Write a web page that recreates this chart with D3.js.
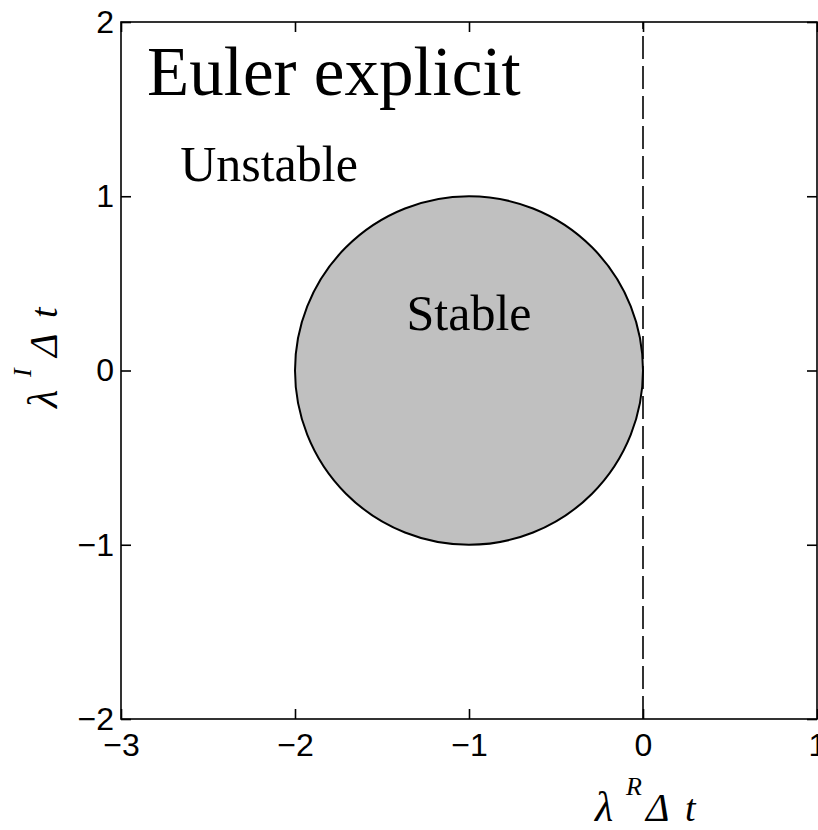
<!DOCTYPE html>
<html>
<head>
<meta charset="utf-8">
<script src="https://cdn.jsdelivr.net/npm/d3@7"></script>
<style>
  body { margin: 0; background: #fff; }
  svg { display: block; }
</style>
</head>
<body>
<div id="chart"></div>
<script>
// Axis ranges and ticks
const xDomain = [-3, 1];
const yDomain = [-2, 2];
const xTicks = [-3, -2, -1, 0, 1];
const yTicks = [-2, -1, 0, 1, 2];

// Stability region of explicit Euler: |1 + z| <= 1
const stableCenter = [-1, 0];
const stableRadius = [1];

// Imaginary axis (dashed)
const boundaryX = [0];

// Labels in the plot
const titleText = ['Euler explicit'];
const regionLabels = ['Unstable', 'Stable'];

const W = 818, H = 830;
const margin = { top: 22, right: 1, bottom: 111, left: 121 };
const width = W - margin.left - margin.right;
const height = H - margin.top - margin.bottom;

const svg = d3.select('#chart')
    .append('svg')
    .attr('width', W)
    .attr('height', H);

const g = svg.append('g')
    .attr('transform', `translate(${margin.left},${margin.top})`);

const x = d3.scaleLinear().domain(xDomain).range([0, width]);
const y = d3.scaleLinear().domain(yDomain).range([height, 0]);

// Stable disc
g.append('ellipse')
    .attr('cx', x(stableCenter[0]))
    .attr('cy', y(stableCenter[1]))
    .attr('rx', x(stableCenter[0] + stableRadius[0]) - x(stableCenter[0]))
    .attr('ry', y(stableCenter[1]) - y(stableCenter[1] + stableRadius[0]))
    .style('fill', '#c0c0c0')
    .style('stroke', '#000')
    .style('stroke-width', 2);

// Dashed vertical line at Re = 0
g.selectAll('.vline')
    .data(boundaryX)
    .enter()
    .append('line')
    .attr('class', 'vline')
    .attr('x1', d => x(d))
    .attr('x2', d => x(d))
    .attr('y1', y(yDomain[0]))
    .attr('y2', y(yDomain[1]))
    .style('stroke', '#000')
    .style('stroke-width', 1.6)
    .style('stroke-dasharray', '23,7');

// Axes: ticks pointing inward on all four sides
const tickFont = '"Liberation Sans", Arial, Helvetica, sans-serif';
const fmt = d3.format('d');

const styleAxis = sel => {
    sel.select('.domain').remove();
    sel.selectAll('line').style('stroke', '#000').style('stroke-width', 1.6);
    sel.selectAll('text')
        .style('font-family', tickFont)
        .style('font-size', '32px')
        .style('fill', '#000');
};

g.append('g')
    .attr('transform', `translate(0,${height})`)
    .call(d3.axisBottom(x).tickValues(xTicks).tickFormat(fmt).tickSizeInner(-10).tickSizeOuter(0).tickPadding(14))
    .call(styleAxis);

g.append('g')
    .call(d3.axisTop(x).tickValues(xTicks).tickFormat('').tickSizeInner(-10).tickSizeOuter(0))
    .call(styleAxis);

g.append('g')
    .call(d3.axisLeft(y).tickValues(yTicks).tickFormat(fmt).tickSizeInner(-10).tickSizeOuter(0).tickPadding(7))
    .call(styleAxis);

g.append('g')
    .attr('transform', `translate(${width},0)`)
    .call(d3.axisRight(y).tickValues(yTicks).tickFormat('').tickSizeInner(-10).tickSizeOuter(0))
    .call(styleAxis);

// Box
g.append('rect')
    .attr('width', width)
    .attr('height', height)
    .style('fill', 'none')
    .style('stroke', '#000')
    .style('stroke-width', 1.6);

// Text inside the plot
const serif = '"Liberation Serif", "Times New Roman", Times, serif';

g.append('text')
    .attr('x', x(-2.85))
    .attr('y', y(1.58))
    .style('font-family', serif)
    .style('font-size', '69px')
    .text(titleText[0]);

g.append('text')
    .attr('x', x(-2.66))
    .attr('y', y(1.09))
    .style('font-family', serif)
    .style('font-size', '50px')
    .text(regionLabels[0]);

g.append('text')
    .attr('x', x(stableCenter[0]))
    .attr('y', y(0.23))
    .attr('text-anchor', 'middle')
    .style('font-family', serif)
    .style('font-size', '50px')
    .text(regionLabels[1]);

// Axis labels: lambda^R Delta t, lambda^I Delta t
const axisLabel = (sel, sup) => {
    sel.style('font-family', serif)
        .style('font-style', 'italic')
        .style('fill', '#000');
    sel.append('tspan').attr('x', 0).attr('y', 0)
        .style('font-size', '42px').text('λ');
    sel.append('tspan').attr('x', 31).attr('y', -26)
        .style('font-size', '26px').text(sup);
    sel.append('tspan').attr('x', 51).attr('y', 0)
        .style('font-size', '40px').text('Δ');
    sel.append('tspan').attr('x', 90).attr('y', 0)
        .style('font-size', '38px').text('t');
};

svg.append('text')
    .attr('transform', 'translate(595,821)')
    .call(axisLabel, 'R');

svg.append('text')
    .attr('transform', 'translate(57,408) rotate(-90)')
    .call(axisLabel, 'I');
</script>
</body>
</html>
